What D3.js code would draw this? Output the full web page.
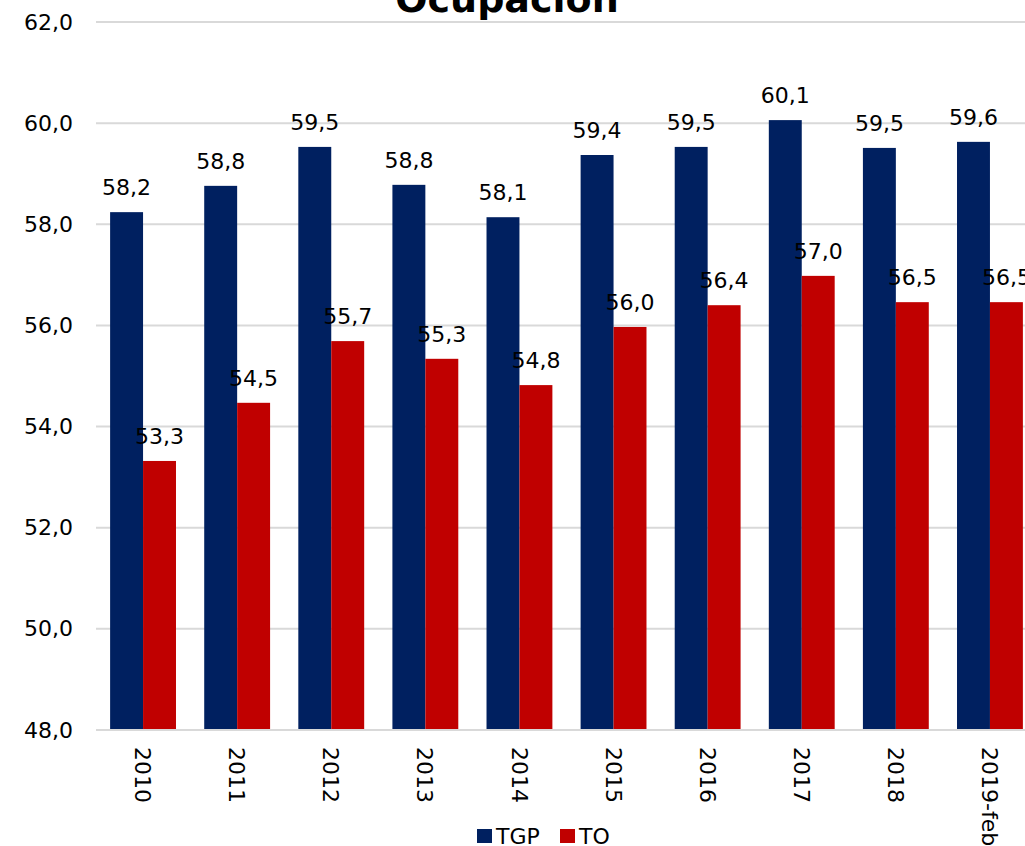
<!DOCTYPE html>
<html><head><meta charset="utf-8">
<script src="https://cdn.jsdelivr.net/npm/d3@7"></script>
<style>
html,body{margin:0;padding:0;background:#fff;overflow:hidden;}
text{font-family:"DejaVu Sans",sans-serif;fill:#000;}
</style></head>
<body>
<script>
const categories = ["2010","2011","2012","2013","2014","2015","2016","2017","2018","2019-feb"];
const seriesNames = ["TGP","TO"];
const tgp = [58.24,58.76,59.53,58.78,58.14,59.37,59.53,60.06,59.51,59.63];
const to  = [53.32,54.47,55.69,55.34,54.82,55.97,56.40,56.98,56.46,56.46];
const yTicks = [48,50,52,54,56,58,60,62];
const colors = ["#002060","#C00000"];
const title = "Ocupación";

const W = 1025, H = 846;
const svg = d3.select("body").append("svg").attr("width",W).attr("height",H);

const y = d3.scaleLinear().domain([48,62]).range([730,22]);
const x0 = d3.scaleBand().domain(categories).range([96,1037]).paddingInner(0.3).paddingOuter(0.15);
const x1 = d3.scaleBand().domain(seriesNames).range([0,x0.bandwidth()]);
const fmt = v => d3.format(".1f")(v).replace(".",",");

// gridlines
svg.append("g").selectAll("line").data(yTicks).join("line")
  .attr("x1",96).attr("x2",W).attr("y1",d=>y(d)).attr("y2",d=>y(d))
  .attr("stroke","#d9d9d9").attr("stroke-width",2);

// y axis labels
const yAxis = d3.axisLeft(y).tickValues(yTicks).tickFormat(fmt).tickSize(0).tickPadding(0);
const ya = svg.append("g").attr("transform","translate(73,0)").call(yAxis);
ya.select(".domain").remove();
ya.selectAll("text").attr("font-size",22).attr("font-family","DejaVu Sans").attr("fill","#000");

// bars
const data = categories.map((c,i)=>({cat:c, vals:[{k:"TGP",v:tgp[i]},{k:"TO",v:to[i]}]}));
const groups = svg.append("g").selectAll("g").data(data).join("g")
  .attr("transform",d=>`translate(${x0(d.cat)},0)`);
groups.selectAll("rect").data(d=>d.vals).join("rect")
  .attr("x",d=>x1(d.k)).attr("width",x1.bandwidth())
  .attr("y",d=>y(d.v)).attr("height",d=>y(48)-y(d.v))
  .attr("fill",(d,i)=>colors[i]);
groups.selectAll("text.val").data(d=>d.vals).join("text").attr("class","val")
  .attr("x",d=>x1(d.k)+x1.bandwidth()/2).attr("y",d=>y(d.v)-17)
  .attr("text-anchor","middle").attr("font-size",22).text(d=>fmt(d.v));

// x axis line
svg.append("line").attr("x1",96).attr("x2",W).attr("y1",y(48)).attr("y2",y(48))
  .attr("stroke","#d9d9d9").attr("stroke-width",2);

// x labels
svg.append("g").selectAll("text").data(categories).join("text")
  .attr("transform",d=>`translate(${x0(d)+x0.bandwidth()/2},747) rotate(90)`)
  .attr("dy","0.36em").attr("text-anchor","start").attr("font-size",22)
  .text(d=>d);

// title
svg.append("text").attr("x",507).attr("y",12).attr("text-anchor","middle")
  .attr("font-size",38).attr("font-weight","bold").text(title);

// legend
const leg = svg.append("g");
const legX = [477,560];
seriesNames.forEach((s,i)=>{
  leg.append("rect").attr("x",legX[i]).attr("y",829).attr("width",15).attr("height",14).attr("fill",colors[i]);
  leg.append("text").attr("x",legX[i]+19).attr("y",844).attr("font-size",22).text(s);
});
</script>
</body></html>
